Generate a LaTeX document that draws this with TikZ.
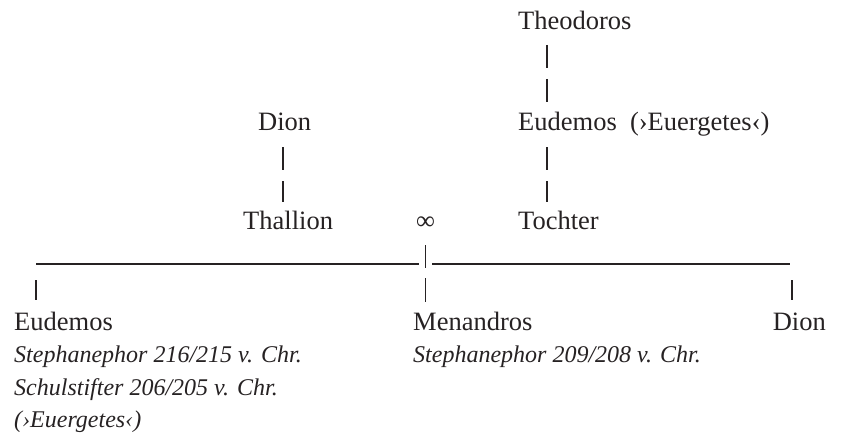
\documentclass[tikz,border=0pt]{standalone}
\usepackage{fontspec}
\setmainfont{Liberation Serif}
\definecolor{ink}{RGB}{38,34,35}
\begin{document}
\begin{tikzpicture}[x=1pt,y=-1pt,
  nm/.style={font=\fontsize{26.5}{33}\selectfont, inner sep=0pt, anchor=base west, text=ink},
  it/.style={font=\fontsize{24}{33}\selectfont\itshape, inner sep=0pt, anchor=base west, text=ink},
  bars/.style={draw=ink, line width=1.2pt, dash pattern=on 23pt off 11pt},
  ln/.style={draw=ink, line width=1.2pt}]
\useasboundingbox (0,0) rectangle (842,433);
% top generations
\node[nm] (theo) at (518,30) {Theodoros};
\node[nm] (eud1) at (518,130) {Eudemos\ \ (›Euergetes‹)};
\node[nm] (toch) at (518,229) {Tochter};
\node[nm] (dion1) at (258,130) {Dion};
\node[nm] (thal) at (243,229) {Thallion};
\node[nm, anchor=base] (marr) at (425.5,229) {∞};
% children
\node[nm] (eud2) at (14,330) {Eudemos};
\node[it] (eud2a) at (14,362) {Stephanephor 216/215 v. Chr.};
\node[it] (eud2b) at (14,395) {Schulstifter 206/205 v. Chr.};
\node[it] (eud2c) at (14,427) {(›Euergetes‹)};
\node[nm] (men) at (413,330) {Menandros};
\node[it] (mena) at (413,362) {Stephanephor 209/208 v. Chr.};
\node[nm, anchor=base east] (dion2) at (826,330) {Dion};
% descent lines
\draw[bars] ([shift={(29,15)}]theo.base west) -- ([shift={(29,-28)}]eud1.base west);
\draw[bars] ([shift={(29,17)}]eud1.base west) -- ([shift={(29,-27)}]toch.base west);
\draw[bars] ([shift={(25,17)}]dion1.base west) -- ([shift={(40,-27)}]thal.base west);
% marriage line
\coordinate (hl) at (36,264);
\coordinate (hr) at (790,264);
\draw[ln] ([yshift=-16pt]marr.base) -- ++(0,23);
\draw[ln] (hl) -- (419,264);
\draw[ln] (432,264) -- (hr);
% children bars
\draw[ln] ([shift={(0,16)}]hl) -- ([shift={(22,-30)}]eud2.base west);
\draw[ln] (425.5,278) -- ([shift={(12.5,-28)}]men.base west);
\draw[ln] ([shift={(2,16)}]hr) -- ([shift={(-34,-30)}]dion2.base east);
\end{tikzpicture}
\end{document}
